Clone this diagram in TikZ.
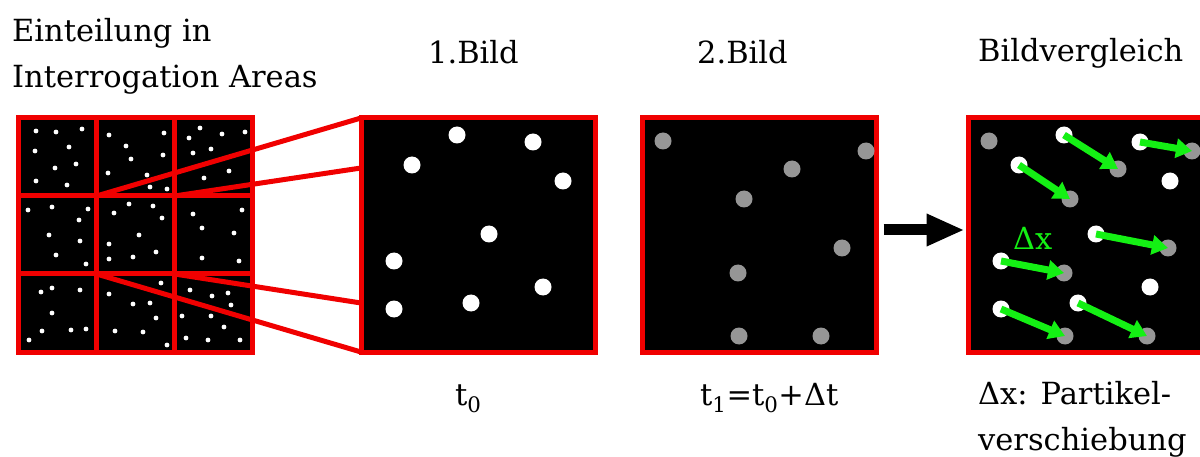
\documentclass[tikz,border=0pt]{standalone}
\usepackage{fontspec}
\setmainfont{DejaVu Serif}
\usetikzlibrary{arrows.meta}
\definecolor{pivred}{RGB}{240,0,0}
\definecolor{pivgreen}{RGB}{20,240,20}
\definecolor{pivgray}{RGB}{150,150,150}

\begin{document}
\begin{tikzpicture}[
    x=1pt, y=-1pt,
    areabox/.style={rectangle, draw=pivred, fill=black, line width=5pt,
                    minimum size=234pt, inner sep=0pt},
    redline/.style={draw=pivred, line width=5pt},
    wdot/.style={circle, fill=white, minimum size=17pt, inner sep=0pt},
    gdot/.style={circle, fill=pivgray, minimum size=17pt, inner sep=0pt},
    lbl/.style={inner sep=0pt, align=left, font=\fontsize{30.5}{46}\selectfont},
    bigarr/.style={-{Triangle[length=38pt, width=30pt]}, line width=11pt},
    movearr/.style={-{Triangle[length=16pt, width=19pt]}, line width=7pt, draw=pivgreen}
]
\useasboundingbox (0,0) rectangle (1200,457);

\node[areabox] (grid) at (135.5,235) {};
\foreach \x/\y in {36/131,56/132,82/129,35/151,69/147,76/164,55/168,36/181,67/185,
    109/135,164/133,126/146,131/159,163/155,108/173,147/175,150/187,167/189,
    200/128,189/138,222/134,245/132,193/153,211/149,229/171,204/178,
    28/210,52/207,88/209,79/220,49/235,80/241,56/255,86/264,
    129/204,153/206,114/213,162/218,139/235,109/244,156/252,109/259,133/257,
    193/214,242/210,202/228,234/233,202/258,239/261,
    41/292,52/288,80/290,52/313,42/331,71/330,86/329,29/340,
    161/283,109/294,133/304,150/303,156/318,115/331,143/332,167/345,
    190/290,212/296,228/293,231/305,182/316,211/316,224/327,186/338,208/340,240/340}
    \fill[white] (\x,\y) circle (2.4);
\foreach \k in {1,2} {
    \draw[redline] (18.5+78*\k,118) -- ++(0,234);
    \draw[redline] (18.5,118+78*\k) -- ++(234,0);
}

\node[areabox] (box1) at (478,235) {};
\node[areabox] (box2) at (759,235) {};
\node[areabox] (box3) at (1085,235) {};

\coordinate (c1) at (96.5,196);
\coordinate (c2) at (174.5,196);
\coordinate (c3) at (96.5,274);
\coordinate (c4) at (174.5,274);
\coordinate (z1) at (361,118);
\coordinate (z2) at (361,168);
\coordinate (z3) at (361,352);
\coordinate (z4) at (361,303);
\draw[redline] (c1) -- (z1);
\draw[redline] (c2) -- (z2);
\draw[redline] (c3) -- (z3);
\draw[redline] (c4) -- (z4);

\begin{scope}[shift={(361,118)}]
\foreach \x/\y [count=\i] in {96/17,172/24,51/47,202/63,128/116,33/143,182/169,110/185,33/191}
    \node[wdot] (a\i) at (\x,\y) {};
\end{scope}

\begin{scope}[shift={(642,118)}]
\foreach \x/\y [count=\i] in {21/23,224/33,150/51,102/81,200/130,96/155,97/218,179/218}
    \node[gdot] (b\i) at (\x,\y) {};
\end{scope}

\begin{scope}[shift={(968,118)}]
\foreach \x/\y [count=\i] in {21/23,224/33,150/51,102/81,200/130,96/155,97/218,179/218}
    \node[gdot] (g\i) at (\x,\y) {};
\foreach \x/\y [count=\i] in {96/17,172/24,51/47,202/63,128/116,33/143,182/169,110/185,33/191}
    \node[wdot] (w\i) at (\x,\y) {};
\end{scope}

\foreach \w/\g in {1/3,2/2,3/4,5/5,6/6,9/7,8/8}
    \draw[movearr] (w\w.center) -- (g\g.center);

\node[lbl, text=pivgreen, anchor=base west] (dx) at (1013,250) {Δx};

\draw[bigarr, shorten <=5pt, shorten >=1pt] ([yshift=5pt]box2.east) -- ([yshift=5pt]box3.west);

\node[lbl, anchor=base west] (title0) at (12,88) {Einteilung in\\Interrogation Areas};
\node[lbl, anchor=base west] (title1) at (428,64) {1.Bild};
\node[lbl, anchor=base west] (title2) at (697,64) {2.Bild};
\node[lbl, anchor=base west] (title3) at (978,62) {Bildvergleich};

\node[lbl, anchor=base west] (time1) at (455,405) {t\textsubscript{0}};
\node[lbl, anchor=base west] (time2) at (700,405) {t\textsubscript{1}=t\textsubscript{0}+Δt};
\node[lbl, anchor=base west] (shiftlbl) at (978,450) {Δx: Partikel-\\verschiebung};
\end{tikzpicture}
\end{document}
